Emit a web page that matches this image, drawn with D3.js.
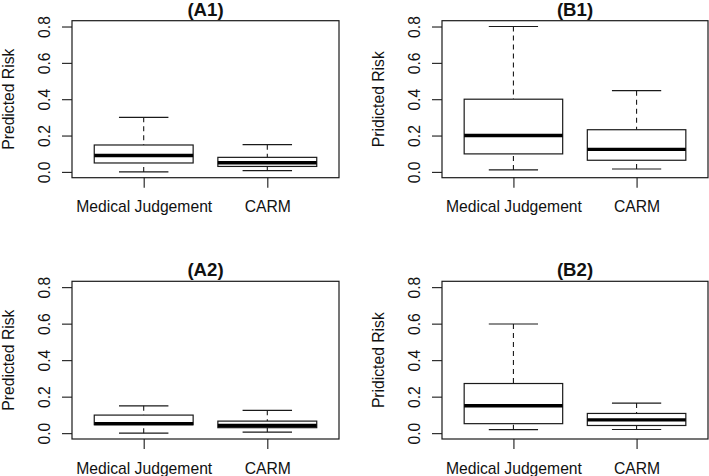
<!DOCTYPE html>
<html>
<head>
<meta charset="utf-8">
<script src="https://cdn.jsdelivr.net/npm/d3@7"></script>
<style>
  html, body { margin: 0; padding: 0; background: #fff; }
  svg { display: block; }
  text { font-family: "Liberation Sans", Arial, sans-serif; fill: #111; }
</style>
</head>
<body>
<svg id="chart" width="709" height="476"></svg>
<script>
// ---- data ----
const categories = ["Medical Judgement", "CARM"];
const panelTitles = ["(A1)", "(B1)", "(A2)", "(B2)"];
const yAxisLabels = ["Predicted Risk", "Pridicted Risk", "Predicted Risk", "Pridicted Risk"];
const yTicks = [0.0, 0.2, 0.4, 0.6, 0.8];
// each: [lower whisker, Q1, median, Q3, upper whisker]
const a1MedicalJudgement = [0.0, 0.049, 0.09, 0.148, 0.30];
const a1CARM = [0.007, 0.03, 0.05, 0.08, 0.15];
const b1MedicalJudgement = [0.011, 0.099, 0.20, 0.40, 0.80];
const b1CARM = [0.016, 0.064, 0.124, 0.232, 0.447];
const a2MedicalJudgement = [0.0, 0.046, 0.052, 0.099, 0.15];
const a2CARM = [0.006, 0.03, 0.042, 0.066, 0.125];
const b2MedicalJudgement = [0.019, 0.052, 0.15, 0.272, 0.598];
const b2CARM = [0.02, 0.042, 0.073, 0.108, 0.165];

const panelStats = [
  [a1MedicalJudgement, a1CARM],
  [b1MedicalJudgement, b1CARM],
  [a2MedicalJudgement, a2CARM],
  [b2MedicalJudgement, b2CARM]
];

// ---- layout ----
const svg = d3.select("#chart");
const FS = 15.7;
const lineColor = "#1a1a1a";
const boxes = [
  {x0: 72, x1: 339, y0: 20.7, y1: 177.7},
  {x0: 442, x1: 708, y0: 20.7, y1: 177.7},
  {x0: 72, x1: 339, y0: 281.3, y1: 439},
  {x0: 442, x1: 708, y0: 281.3, y1: 439}
];

panelStats.forEach((stats, i) => {
  const b = boxes[i];
  const g = svg.append("g");
  const y = d3.scaleLinear().domain([-0.032, 0.832]).range([b.y1, b.y0]);
  const x = d3.scaleLinear().domain([0.42, 2.58]).range([b.x0, b.x1]);
  const unit = x(1) - x(0);
  const halfW = 0.4 * unit;
  const capHalf = 0.2 * unit;

  // plot frame
  g.append("rect")
    .attr("x", b.x0).attr("y", b.y0)
    .attr("width", b.x1 - b.x0).attr("height", b.y1 - b.y0)
    .attr("fill", "none").attr("stroke", lineColor).attr("stroke-width", 1.2);

  // y axis
  const yAxis = d3.axisLeft(y).tickValues(yTicks).tickSize(10).tickPadding(0)
    .tickFormat(d3.format(".1f"));
  const ya = g.append("g").attr("transform", `translate(${b.x0},0)`).call(yAxis);
  ya.select(".domain").remove();
  ya.selectAll(".tick line").attr("stroke", lineColor).attr("stroke-width", 1.1);
  ya.selectAll(".tick text")
    .attr("x", 0).attr("dy", null)
    .attr("transform", "translate(-22,0) rotate(-90)")
    .attr("text-anchor", "middle")
    .attr("font-size", FS)
    .attr("font-family", '"Liberation Sans", Arial, sans-serif')
    .attr("fill", "#111");

  // x axis
  const xAxis = d3.axisBottom(x).tickValues([1, 2]).tickSize(10).tickPadding(0)
    .tickFormat((d) => categories[d - 1]);
  const xa = g.append("g").attr("transform", `translate(0,${b.y1})`).call(xAxis);
  xa.select(".domain").remove();
  xa.selectAll(".tick line").attr("stroke", lineColor).attr("stroke-width", 1.1);
  xa.selectAll(".tick text")
    .attr("y", 34.5).attr("dy", null)
    .attr("font-size", FS)
    .attr("font-family", '"Liberation Sans", Arial, sans-serif')
    .attr("fill", "#111");

  // boxes
  stats.forEach((s, j) => {
    const cx = x(j + 1);
    const [lo, q1, med, q3, hi] = s;
    // whiskers (dashed), drawn from the whisker end toward the box
    g.append("line").attr("x1", cx).attr("x2", cx).attr("y1", y(hi)).attr("y2", y(q3))
      .attr("stroke", lineColor).attr("stroke-width", 1.1).attr("stroke-dasharray", "5,4");
    g.append("line").attr("x1", cx).attr("x2", cx).attr("y1", y(lo)).attr("y2", y(q1))
      .attr("stroke", lineColor).attr("stroke-width", 1.1).attr("stroke-dasharray", "5,4");
    // staples
    [lo, hi].forEach((v) => {
      g.append("line").attr("x1", cx - capHalf).attr("x2", cx + capHalf)
        .attr("y1", y(v)).attr("y2", y(v))
        .attr("stroke", lineColor).attr("stroke-width", 1.2);
    });
    // box
    g.append("rect").attr("x", cx - halfW).attr("y", y(q3))
      .attr("width", 2 * halfW).attr("height", y(q1) - y(q3))
      .attr("fill", "#fff").attr("stroke", lineColor).attr("stroke-width", 1.2);
    // median
    g.append("line").attr("x1", cx - halfW).attr("x2", cx + halfW)
      .attr("y1", y(med)).attr("y2", y(med))
      .attr("stroke", "#000").attr("stroke-width", 3.4);
  });

  // title
  g.append("text")
    .attr("x", (b.x0 + b.x1) / 2)
    .attr("y", b.y0 - 5.2)
    .attr("text-anchor", "middle")
    .attr("font-weight", "bold")
    .attr("font-size", 18.6)
    .text(panelTitles[i]);

  // y label
  g.append("text")
    .attr("transform", `translate(${b.x0 - 58},${(b.y0 + b.y1) / 2}) rotate(-90)`)
    .attr("text-anchor", "middle")
    .attr("font-size", FS)
    .text(yAxisLabels[i]);
});
</script>
</body>
</html>
